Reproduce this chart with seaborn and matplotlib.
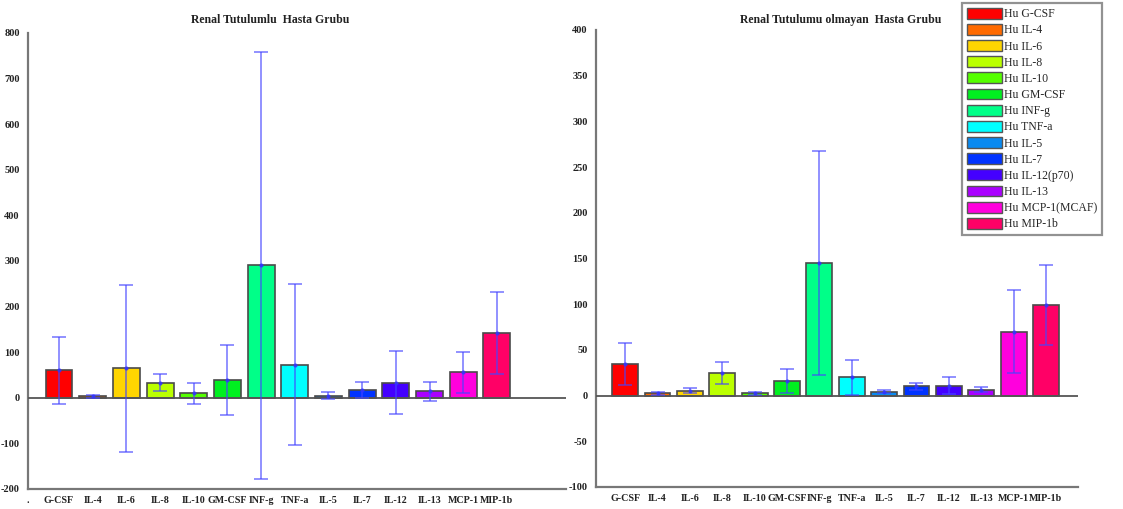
import matplotlib
matplotlib.use("Agg")
import matplotlib.pyplot as plt
import matplotlib.patches as mpatches
import seaborn as sns
import pandas as pd
import numpy as np

sns.set_style("white")
plt.rcParams['font.family'] = ['Liberation Serif', 'DejaVu Serif']

categories = ["G-CSF", "IL-4", "IL-6", "IL-8", "IL-10", "GM-CSF", "INF-g",
              "TNF-a", "IL-5", "IL-7", "IL-12", "IL-13", "MCP-1", "MIP-1b"]
legend_labels = ["Hu G-CSF", "Hu IL-4", "Hu IL-6", "Hu IL-8", "Hu IL-10", "Hu GM-CSF",
                 "Hu INF-g", "Hu TNF-a", "Hu IL-5", "Hu IL-7", "Hu IL-12(p70)",
                 "Hu IL-13", "Hu MCP-1(MCAF)", "Hu MIP-1b"]
colors = ["#FF0000", "#FF6A00", "#FFD500", "#BBFF00", "#55FF00", "#00F020",
          "#00FF88", "#00FFFF", "#0A8AF0", "#0033FF", "#4400FF", "#AA00FF",
          "#FF00DD", "#FF0066"]

renal_mean = [60, 3, 65, 33, 10, 39, 291, 73, 5, 17, 33, 14, 56, 142]
renal_sd = [74, 2.5, 183, 19, 23, 76, 468, 177, 7.5, 17, 69, 21, 45, 90]

nonrenal_mean = [35, 2.5, 5.5, 25, 2.5, 16, 145, 20, 4, 10, 11, 6.5, 70, 99]
nonrenal_sd = [23, 1.5, 2.5, 12, 1.8, 13.5, 123, 19, 1.7, 4, 9.5, 3, 45, 44]

fig = plt.figure(figsize=(11.23, 5.09), dpi=100)
W, H = 1123, 509


def px_axes(x0, y0, x1, y1):
    return fig.add_axes([x0 / W, 1 - y1 / H, (x1 - x0) / W, (y1 - y0) / H])


ax1 = px_axes(28, 33, 566, 489)
ax2 = px_axes(596, 30, 1078, 487)


def draw(ax, means, sds, ylim, ystep, xlim, dot_label):
    df = pd.DataFrame({"cat": categories, "val": means})
    sns.barplot(data=df, x="cat", y="val", hue="cat", order=categories,
                hue_order=categories, palette=colors, ax=ax, width=0.8,
                edgecolor="#4a4a4a", linewidth=1.2, legend=False, saturation=1)
    ax.errorbar(np.arange(len(categories)), means, yerr=sds, fmt='o', ms=2,
                color="#3333FF", ecolor="#4444FF", elinewidth=1.1, capsize=5,
                capthick=1.1, alpha=0.75, zorder=5)
    ax.axhline(0, color="#555555", lw=1.3, zorder=4)
    ax.set_ylim(*ylim)
    ax.set_xlim(*xlim)
    yt = np.arange(ylim[0], ylim[1] + 1, ystep)
    ax.set_yticks(yt)
    ax.set_yticklabels([str(int(v)) for v in yt],
                       fontsize=7.5, fontweight="bold", color="#222222")
    ticks = list(range(len(categories)))
    labels = list(categories)
    if dot_label:
        ticks = [xlim[0]] + ticks
        labels = ["."] + labels
    ax.set_xticks(ticks)
    ax.set_xticklabels(labels, fontsize=7.2, fontweight="bold", color="#222222")
    ax.set_xlabel("")
    ax.set_ylabel("")
    for s in ["top", "right"]:
        ax.spines[s].set_visible(False)
    for s in ["left", "bottom"]:
        ax.spines[s].set_color("#777777")
        ax.spines[s].set_linewidth(1.6)
    ax.tick_params(axis="y", direction="out", length=4, width=1.2, color="#777777", pad=2)
    ax.tick_params(axis="x", direction="in", length=7, width=1.2, color="#777777", pad=5)
    ax.set_facecolor("white")


draw(ax1, renal_mean, renal_sd, (-200, 800), 100, (-0.92, 15.05), True)
draw(ax2, nonrenal_mean, nonrenal_sd, (-100, 400), 50, (-0.9, 13.99), False)

fig.text(270 / W, 1 - 20 / H, "Renal Tutulumlu  Hasta Grubu", ha="center", va="center",
         fontsize=8.5, fontweight="bold", color="#222222")
fig.text(841 / W, 1 - 20 / H, "Renal Tutulumu olmayan  Hasta Grubu", ha="center", va="center",
         fontsize=8.5, fontweight="bold", color="#222222")

handles = [mpatches.Patch(facecolor=c, edgecolor="#555555", linewidth=1.0, label=l)
           for c, l in zip(colors, legend_labels)]
leg = fig.legend(handles=handles, loc="upper left",
                 bbox_to_anchor=(962 / W, 1 - 3 / H), frameon=True, fontsize=8.5,
                 handlelength=3.0, handleheight=1.05, handletextpad=0.15,
                 labelspacing=0.31, borderpad=0.4, borderaxespad=0, fancybox=False)
leg.get_frame().set_edgecolor("#777777")
leg.get_frame().set_linewidth(1.6)

fig.savefig("out.png", dpi=100, facecolor="white")
